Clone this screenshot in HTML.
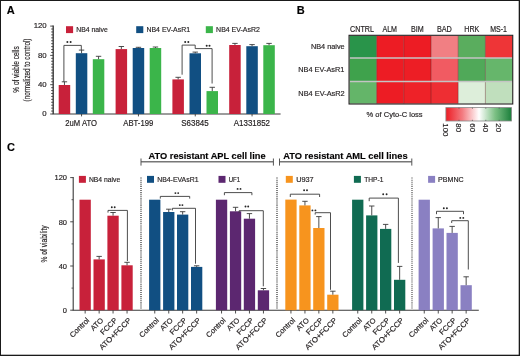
<!DOCTYPE html>
<html><head><meta charset="utf-8"><title>Figure</title>
<style>
html,body{margin:0;padding:0;background:#fff;}
body{width:520px;height:356px;overflow:hidden;}
svg{display:block;font-family:"Liberation Sans", sans-serif;will-change:transform;}
text{stroke:#231f20;stroke-width:0.18px;}
</style></head>
<body>
<svg width="520" height="356" viewBox="0 0 520 356" fill="#231f20">
<rect x="0" y="0" width="520" height="356" fill="#fff"/>
<text x="6.70" y="13.90" font-size="11" font-weight="bold" fill="#000">A</text>
<text x="296.70" y="14.00" font-size="11" font-weight="bold" fill="#000">B</text>
<text x="6.90" y="150.90" font-size="11" font-weight="bold" fill="#000">C</text>
<line x1="53.20" y1="25.50" x2="53.20" y2="114.00" stroke="#3a3a3a" stroke-width="1.4"/>
<line x1="50.20" y1="114.00" x2="53.20" y2="114.00" stroke="#3a3a3a" stroke-width="0.9"/>
<line x1="51.20" y1="111.07" x2="53.20" y2="111.07" stroke="#3a3a3a" stroke-width="0.9"/>
<line x1="51.20" y1="108.14" x2="53.20" y2="108.14" stroke="#3a3a3a" stroke-width="0.9"/>
<line x1="51.20" y1="105.21" x2="53.20" y2="105.21" stroke="#3a3a3a" stroke-width="0.9"/>
<line x1="51.20" y1="102.28" x2="53.20" y2="102.28" stroke="#3a3a3a" stroke-width="0.9"/>
<line x1="51.20" y1="99.35" x2="53.20" y2="99.35" stroke="#3a3a3a" stroke-width="0.9"/>
<line x1="51.20" y1="96.42" x2="53.20" y2="96.42" stroke="#3a3a3a" stroke-width="0.9"/>
<line x1="51.20" y1="93.49" x2="53.20" y2="93.49" stroke="#3a3a3a" stroke-width="0.9"/>
<line x1="51.20" y1="90.56" x2="53.20" y2="90.56" stroke="#3a3a3a" stroke-width="0.9"/>
<line x1="51.20" y1="87.63" x2="53.20" y2="87.63" stroke="#3a3a3a" stroke-width="0.9"/>
<line x1="50.20" y1="84.70" x2="53.20" y2="84.70" stroke="#3a3a3a" stroke-width="0.9"/>
<line x1="51.20" y1="81.77" x2="53.20" y2="81.77" stroke="#3a3a3a" stroke-width="0.9"/>
<line x1="51.20" y1="78.84" x2="53.20" y2="78.84" stroke="#3a3a3a" stroke-width="0.9"/>
<line x1="51.20" y1="75.91" x2="53.20" y2="75.91" stroke="#3a3a3a" stroke-width="0.9"/>
<line x1="51.20" y1="72.98" x2="53.20" y2="72.98" stroke="#3a3a3a" stroke-width="0.9"/>
<line x1="51.20" y1="70.05" x2="53.20" y2="70.05" stroke="#3a3a3a" stroke-width="0.9"/>
<line x1="51.20" y1="67.12" x2="53.20" y2="67.12" stroke="#3a3a3a" stroke-width="0.9"/>
<line x1="51.20" y1="64.19" x2="53.20" y2="64.19" stroke="#3a3a3a" stroke-width="0.9"/>
<line x1="51.20" y1="61.26" x2="53.20" y2="61.26" stroke="#3a3a3a" stroke-width="0.9"/>
<line x1="51.20" y1="58.33" x2="53.20" y2="58.33" stroke="#3a3a3a" stroke-width="0.9"/>
<line x1="50.20" y1="55.40" x2="53.20" y2="55.40" stroke="#3a3a3a" stroke-width="0.9"/>
<line x1="51.20" y1="52.47" x2="53.20" y2="52.47" stroke="#3a3a3a" stroke-width="0.9"/>
<line x1="51.20" y1="49.54" x2="53.20" y2="49.54" stroke="#3a3a3a" stroke-width="0.9"/>
<line x1="51.20" y1="46.61" x2="53.20" y2="46.61" stroke="#3a3a3a" stroke-width="0.9"/>
<line x1="51.20" y1="43.68" x2="53.20" y2="43.68" stroke="#3a3a3a" stroke-width="0.9"/>
<line x1="51.20" y1="40.75" x2="53.20" y2="40.75" stroke="#3a3a3a" stroke-width="0.9"/>
<line x1="51.20" y1="37.82" x2="53.20" y2="37.82" stroke="#3a3a3a" stroke-width="0.9"/>
<line x1="51.20" y1="34.89" x2="53.20" y2="34.89" stroke="#3a3a3a" stroke-width="0.9"/>
<line x1="51.20" y1="31.96" x2="53.20" y2="31.96" stroke="#3a3a3a" stroke-width="0.9"/>
<line x1="51.20" y1="29.03" x2="53.20" y2="29.03" stroke="#3a3a3a" stroke-width="0.9"/>
<line x1="50.20" y1="26.10" x2="53.20" y2="26.10" stroke="#3a3a3a" stroke-width="0.9"/>
<line x1="52.70" y1="114.00" x2="280.60" y2="114.00" stroke="#3a3a3a" stroke-width="1.1"/>
<text x="46.70" y="116.20" font-size="7.8" text-anchor="end">0</text>
<text x="46.70" y="86.90" font-size="7.8" text-anchor="end">40</text>
<text x="46.70" y="57.60" font-size="7.8" text-anchor="end">80</text>
<text x="46.70" y="28.30" font-size="7.8" text-anchor="end">120</text>
<rect x="58.70" y="85.00" width="11.50" height="29.00" fill="#c8213a"/>
<line x1="64.45" y1="81.80" x2="64.45" y2="85.00" stroke="#3a3a3a" stroke-width="0.9"/>
<line x1="61.75" y1="81.80" x2="67.15" y2="81.80" stroke="#3a3a3a" stroke-width="0.9"/>
<rect x="75.80" y="53.20" width="11.50" height="60.80" fill="#114f82"/>
<line x1="81.55" y1="50.10" x2="81.55" y2="53.20" stroke="#3a3a3a" stroke-width="0.9"/>
<line x1="78.85" y1="50.10" x2="84.25" y2="50.10" stroke="#3a3a3a" stroke-width="0.9"/>
<rect x="92.80" y="59.20" width="11.50" height="54.80" fill="#3bb54a"/>
<line x1="98.55" y1="56.30" x2="98.55" y2="59.20" stroke="#3a3a3a" stroke-width="0.9"/>
<line x1="95.85" y1="56.30" x2="101.25" y2="56.30" stroke="#3a3a3a" stroke-width="0.9"/>
<line x1="81.55" y1="114.00" x2="81.55" y2="116.40" stroke="#3a3a3a" stroke-width="0.9"/>
<rect x="115.60" y="49.10" width="11.50" height="64.90" fill="#c8213a"/>
<line x1="121.35" y1="46.50" x2="121.35" y2="49.10" stroke="#3a3a3a" stroke-width="0.9"/>
<line x1="118.65" y1="46.50" x2="124.05" y2="46.50" stroke="#3a3a3a" stroke-width="0.9"/>
<rect x="132.70" y="48.00" width="11.50" height="66.00" fill="#114f82"/>
<line x1="138.45" y1="47.30" x2="138.45" y2="48.00" stroke="#3a3a3a" stroke-width="0.9"/>
<line x1="135.75" y1="47.30" x2="141.15" y2="47.30" stroke="#3a3a3a" stroke-width="0.9"/>
<rect x="149.70" y="48.00" width="11.50" height="66.00" fill="#3bb54a"/>
<line x1="155.45" y1="47.00" x2="155.45" y2="48.00" stroke="#3a3a3a" stroke-width="0.9"/>
<line x1="152.75" y1="47.00" x2="158.15" y2="47.00" stroke="#3a3a3a" stroke-width="0.9"/>
<line x1="138.45" y1="114.00" x2="138.45" y2="116.40" stroke="#3a3a3a" stroke-width="0.9"/>
<rect x="172.40" y="79.40" width="11.50" height="34.60" fill="#c8213a"/>
<line x1="178.15" y1="77.30" x2="178.15" y2="79.40" stroke="#3a3a3a" stroke-width="0.9"/>
<line x1="175.45" y1="77.30" x2="180.85" y2="77.30" stroke="#3a3a3a" stroke-width="0.9"/>
<rect x="189.50" y="53.30" width="11.50" height="60.70" fill="#114f82"/>
<line x1="195.25" y1="52.10" x2="195.25" y2="53.30" stroke="#3a3a3a" stroke-width="0.9"/>
<line x1="192.55" y1="52.10" x2="197.95" y2="52.10" stroke="#3a3a3a" stroke-width="0.9"/>
<rect x="206.50" y="91.10" width="11.50" height="22.90" fill="#3bb54a"/>
<line x1="212.25" y1="87.30" x2="212.25" y2="91.10" stroke="#3a3a3a" stroke-width="0.9"/>
<line x1="209.55" y1="87.30" x2="214.95" y2="87.30" stroke="#3a3a3a" stroke-width="0.9"/>
<line x1="195.25" y1="114.00" x2="195.25" y2="116.40" stroke="#3a3a3a" stroke-width="0.9"/>
<rect x="229.20" y="45.00" width="11.50" height="69.00" fill="#c8213a"/>
<line x1="234.95" y1="43.40" x2="234.95" y2="45.00" stroke="#3a3a3a" stroke-width="0.9"/>
<line x1="232.25" y1="43.40" x2="237.65" y2="43.40" stroke="#3a3a3a" stroke-width="0.9"/>
<rect x="246.30" y="46.20" width="11.50" height="67.80" fill="#114f82"/>
<line x1="252.05" y1="44.60" x2="252.05" y2="46.20" stroke="#3a3a3a" stroke-width="0.9"/>
<line x1="249.35" y1="44.60" x2="254.75" y2="44.60" stroke="#3a3a3a" stroke-width="0.9"/>
<rect x="263.30" y="45.20" width="11.50" height="68.80" fill="#3bb54a"/>
<line x1="269.05" y1="43.40" x2="269.05" y2="45.20" stroke="#3a3a3a" stroke-width="0.9"/>
<line x1="266.35" y1="43.40" x2="271.75" y2="43.40" stroke="#3a3a3a" stroke-width="0.9"/>
<line x1="252.05" y1="114.00" x2="252.05" y2="116.40" stroke="#3a3a3a" stroke-width="0.9"/>
<text x="65.30" y="125.70" font-size="8.4" textLength="31.70" lengthAdjust="spacingAndGlyphs">2uM ATO</text>
<text x="123.30" y="125.70" font-size="8.4" textLength="30.00" lengthAdjust="spacingAndGlyphs">ABT-199</text>
<text x="181.30" y="125.70" font-size="8.4" textLength="27.40" lengthAdjust="spacingAndGlyphs">S63845</text>
<text x="233.80" y="125.70" font-size="8.4" textLength="36.20" lengthAdjust="spacingAndGlyphs">A1331852</text>
<path d="M63.9,81.8 V45.4 H81.3 V50.1" fill="none" stroke="#3a3a3a" stroke-width="0.9"/>
<circle cx="67.40" cy="42.10" r="1.0" fill="#262626"/><circle cx="70.60" cy="42.10" r="1.0" fill="#262626"/>
<path d="M182.1,74.7 V45.1 H195.2 V48.6 H212.1 V83.5" fill="none" stroke="#3a3a3a" stroke-width="0.9"/>
<circle cx="185.20" cy="42.10" r="1.0" fill="#262626"/><circle cx="188.30" cy="42.10" r="1.0" fill="#262626"/>
<circle cx="206.70" cy="45.70" r="1.0" fill="#262626"/><circle cx="209.50" cy="45.70" r="1.0" fill="#262626"/>
<rect x="66.00" y="26.20" width="7.10" height="6.90" fill="#c8213a"/>
<text x="76.20" y="32.40" font-size="7.8" textLength="31.60" lengthAdjust="spacingAndGlyphs">NB4 naive</text>
<rect x="136.20" y="26.20" width="7.10" height="6.90" fill="#114f82"/>
<text x="146.50" y="32.40" font-size="7.8" textLength="43.50" lengthAdjust="spacingAndGlyphs">NB4 EV-AsR1</text>
<rect x="205.80" y="26.20" width="7.10" height="6.90" fill="#3bb54a"/>
<text x="216.10" y="32.40" font-size="7.8" textLength="43.80" lengthAdjust="spacingAndGlyphs">NB4 EV-AsR2</text>
<text x="0.00" y="0.00" font-size="9.3" text-anchor="middle" textLength="46.30" lengthAdjust="spacingAndGlyphs" transform="translate(18.9,69.5) rotate(-90)">% of viable cells</text>
<text x="0.00" y="0.00" font-size="9.2" text-anchor="middle" textLength="62.80" lengthAdjust="spacingAndGlyphs" transform="translate(29.9,70.0) rotate(-90)">(normalized to control)</text>
<rect x="349.50" y="35.80" width="27.20" height="22.20" fill="#29944a"/>
<rect x="376.70" y="35.80" width="27.10" height="22.20" fill="#ed1c24"/>
<rect x="403.80" y="35.80" width="27.20" height="22.20" fill="#ed1c24"/>
<rect x="431.00" y="35.80" width="27.20" height="22.20" fill="#f17f83"/>
<rect x="458.20" y="35.80" width="27.20" height="22.20" fill="#5aad5e"/>
<rect x="485.40" y="35.80" width="27.20" height="22.20" fill="#ee3537"/>
<rect x="349.50" y="58.00" width="27.20" height="23.40" fill="#3fa24c"/>
<rect x="376.70" y="58.00" width="27.10" height="23.40" fill="#ed1c24"/>
<rect x="403.80" y="58.00" width="27.20" height="23.40" fill="#ed1e25"/>
<rect x="431.00" y="58.00" width="27.20" height="23.40" fill="#f15b62"/>
<rect x="458.20" y="58.00" width="27.20" height="23.40" fill="#50a959"/>
<rect x="485.40" y="58.00" width="27.20" height="23.40" fill="#66b66b"/>
<rect x="349.50" y="81.40" width="27.20" height="22.20" fill="#64b569"/>
<rect x="376.70" y="81.40" width="27.10" height="22.20" fill="#ed1c24"/>
<rect x="403.80" y="81.40" width="27.20" height="22.20" fill="#ee2228"/>
<rect x="431.00" y="81.40" width="27.20" height="22.20" fill="#ee2e33"/>
<rect x="458.20" y="81.40" width="27.20" height="22.20" fill="#ddeeda"/>
<rect x="485.40" y="81.40" width="27.20" height="22.20" fill="#c0dfbd"/>
<line x1="376.70" y1="35.80" x2="376.70" y2="103.60" stroke="#5a2020" stroke-width="0.6" stroke-opacity="0.7"/>
<line x1="403.80" y1="35.80" x2="403.80" y2="103.60" stroke="#5a2020" stroke-width="0.6" stroke-opacity="0.7"/>
<line x1="431.00" y1="35.80" x2="431.00" y2="103.60" stroke="#5a2020" stroke-width="0.6" stroke-opacity="0.7"/>
<line x1="458.20" y1="35.80" x2="458.20" y2="103.60" stroke="#5a2020" stroke-width="0.6" stroke-opacity="0.7"/>
<line x1="485.40" y1="35.80" x2="485.40" y2="103.60" stroke="#5a2020" stroke-width="0.6" stroke-opacity="0.7"/>
<line x1="349.50" y1="58.00" x2="512.60" y2="58.00" stroke="#c4c4c4" stroke-width="1.5"/>
<line x1="349.50" y1="81.40" x2="512.60" y2="81.40" stroke="#c4c4c4" stroke-width="1.5"/>
<rect x="349.05" y="35.3" width="163.7" height="68.7" fill="none" stroke="#231f20" stroke-width="1.1"/>
<text x="350.00" y="32.20" font-size="8.6" textLength="24.00" lengthAdjust="spacingAndGlyphs">CNTRL</text>
<text x="382.40" y="32.20" font-size="8.6" textLength="14.60" lengthAdjust="spacingAndGlyphs">ALM</text>
<text x="410.90" y="32.20" font-size="8.6" textLength="12.70" lengthAdjust="spacingAndGlyphs">BIM</text>
<text x="436.90" y="32.20" font-size="8.6" textLength="15.00" lengthAdjust="spacingAndGlyphs">BAD</text>
<text x="464.30" y="32.20" font-size="8.6" textLength="15.10" lengthAdjust="spacingAndGlyphs">HRK</text>
<text x="490.20" y="32.20" font-size="8.6" textLength="16.80" lengthAdjust="spacingAndGlyphs">MS-1</text>
<text x="310.90" y="48.90" font-size="7.9" textLength="33.80" lengthAdjust="spacingAndGlyphs">NB4 naive</text>
<text x="298.30" y="72.40" font-size="7.9" textLength="46.00" lengthAdjust="spacingAndGlyphs">NB4 EV-AsR1</text>
<text x="298.30" y="96.30" font-size="7.9" textLength="46.40" lengthAdjust="spacingAndGlyphs">NB4 EV-AsR2</text>
<defs><linearGradient id="cb" x1="0" x2="1" y1="0" y2="0"><stop offset="0" stop-color="#ed1c24"/><stop offset="0.25" stop-color="#f37b80"/><stop offset="0.505" stop-color="#ffffff"/><stop offset="0.75" stop-color="#7cc084"/><stop offset="1" stop-color="#1b7f3b"/></linearGradient></defs>
<rect x="445.9" y="107.6" width="65.6" height="13.4" fill="url(#cb)" stroke="#888" stroke-width="0.8"/>
<text x="0.00" y="0.00" font-size="7.9" transform="translate(442.80,123.3) rotate(90)">100</text>
<line x1="459.00" y1="107.60" x2="459.00" y2="108.80" stroke="#555" stroke-width="0.7"/>
<line x1="459.00" y1="119.80" x2="459.00" y2="121.00" stroke="#555" stroke-width="0.7"/>
<text x="0.00" y="0.00" font-size="7.9" transform="translate(456.20,123.3) rotate(90)">80</text>
<line x1="472.40" y1="107.60" x2="472.40" y2="108.80" stroke="#555" stroke-width="0.7"/>
<line x1="472.40" y1="119.80" x2="472.40" y2="121.00" stroke="#555" stroke-width="0.7"/>
<text x="0.00" y="0.00" font-size="7.9" transform="translate(469.60,123.3) rotate(90)">60</text>
<line x1="485.80" y1="107.60" x2="485.80" y2="108.80" stroke="#555" stroke-width="0.7"/>
<line x1="485.80" y1="119.80" x2="485.80" y2="121.00" stroke="#555" stroke-width="0.7"/>
<text x="0.00" y="0.00" font-size="7.9" transform="translate(483.00,123.3) rotate(90)">40</text>
<line x1="499.20" y1="107.60" x2="499.20" y2="108.80" stroke="#555" stroke-width="0.7"/>
<line x1="499.20" y1="119.80" x2="499.20" y2="121.00" stroke="#555" stroke-width="0.7"/>
<text x="0.00" y="0.00" font-size="7.9" transform="translate(496.40,123.3) rotate(90)">20</text>
<text x="366.60" y="116.80" font-size="7.9" textLength="56.00" lengthAdjust="spacingAndGlyphs">% of Cyto-C loss</text>
<line x1="73.20" y1="177.10" x2="73.20" y2="310.20" stroke="#3a3a3a" stroke-width="1.1"/>
<line x1="70.20" y1="310.20" x2="73.20" y2="310.20" stroke="#3a3a3a" stroke-width="0.9"/>
<line x1="71.50" y1="288.10" x2="73.20" y2="288.10" stroke="#3a3a3a" stroke-width="0.8"/>
<line x1="70.20" y1="266.00" x2="73.20" y2="266.00" stroke="#3a3a3a" stroke-width="0.9"/>
<line x1="71.50" y1="243.90" x2="73.20" y2="243.90" stroke="#3a3a3a" stroke-width="0.8"/>
<line x1="70.20" y1="221.80" x2="73.20" y2="221.80" stroke="#3a3a3a" stroke-width="0.9"/>
<line x1="71.50" y1="199.70" x2="73.20" y2="199.70" stroke="#3a3a3a" stroke-width="0.8"/>
<line x1="70.20" y1="177.60" x2="73.20" y2="177.60" stroke="#3a3a3a" stroke-width="0.9"/>
<line x1="72.70" y1="310.20" x2="478.80" y2="310.20" stroke="#3a3a3a" stroke-width="1.1"/>
<text x="67.00" y="313.00" font-size="7.5" text-anchor="end">0</text>
<text x="67.00" y="268.80" font-size="7.5" text-anchor="end">40</text>
<text x="67.00" y="224.60" font-size="7.5" text-anchor="end">80</text>
<text x="67.00" y="180.40" font-size="7.5" text-anchor="end">120</text>
<rect x="79.50" y="199.70" width="11.30" height="110.50" fill="#c8213a"/>
<line x1="85.15" y1="310.20" x2="85.15" y2="313.50" stroke="#3a3a3a" stroke-width="0.9"/>
<text x="0.00" y="0.00" font-size="7.5" text-anchor="end" transform="translate(89.80,320.8) rotate(-45)">Control</text>
<rect x="93.50" y="259.40" width="11.30" height="50.80" fill="#c8213a"/>
<line x1="99.15" y1="256.40" x2="99.15" y2="259.40" stroke="#3a3a3a" stroke-width="0.9"/>
<line x1="96.45" y1="256.40" x2="101.85" y2="256.40" stroke="#3a3a3a" stroke-width="0.9"/>
<line x1="99.15" y1="310.20" x2="99.15" y2="313.50" stroke="#3a3a3a" stroke-width="0.9"/>
<text x="0.00" y="0.00" font-size="7.5" text-anchor="end" transform="translate(103.80,320.8) rotate(-45)">ATO</text>
<rect x="107.40" y="215.70" width="11.30" height="94.50" fill="#c8213a"/>
<line x1="113.05" y1="212.50" x2="113.05" y2="215.70" stroke="#3a3a3a" stroke-width="0.9"/>
<line x1="110.35" y1="212.50" x2="115.75" y2="212.50" stroke="#3a3a3a" stroke-width="0.9"/>
<line x1="113.05" y1="310.20" x2="113.05" y2="313.50" stroke="#3a3a3a" stroke-width="0.9"/>
<text x="0.00" y="0.00" font-size="7.5" text-anchor="end" transform="translate(117.70,320.8) rotate(-45)">FCCP</text>
<rect x="121.40" y="265.30" width="11.30" height="44.90" fill="#c8213a"/>
<line x1="127.05" y1="262.30" x2="127.05" y2="265.30" stroke="#3a3a3a" stroke-width="0.9"/>
<line x1="124.35" y1="262.30" x2="129.75" y2="262.30" stroke="#3a3a3a" stroke-width="0.9"/>
<line x1="127.05" y1="310.20" x2="127.05" y2="313.50" stroke="#3a3a3a" stroke-width="0.9"/>
<text x="0.00" y="0.00" font-size="7.5" text-anchor="end" textLength="41.80" lengthAdjust="spacingAndGlyphs" transform="translate(131.70,320.8) rotate(-45)">ATO+FCCP</text>
<rect x="149.10" y="199.70" width="11.30" height="110.50" fill="#114f82"/>
<line x1="154.75" y1="310.20" x2="154.75" y2="313.50" stroke="#3a3a3a" stroke-width="0.9"/>
<text x="0.00" y="0.00" font-size="7.5" text-anchor="end" transform="translate(159.40,320.8) rotate(-45)">Control</text>
<rect x="163.10" y="212.00" width="11.30" height="98.20" fill="#114f82"/>
<line x1="168.75" y1="209.20" x2="168.75" y2="212.00" stroke="#3a3a3a" stroke-width="0.9"/>
<line x1="166.05" y1="209.20" x2="171.45" y2="209.20" stroke="#3a3a3a" stroke-width="0.9"/>
<line x1="168.75" y1="310.20" x2="168.75" y2="313.50" stroke="#3a3a3a" stroke-width="0.9"/>
<text x="0.00" y="0.00" font-size="7.5" text-anchor="end" transform="translate(173.40,320.8) rotate(-45)">ATO</text>
<rect x="177.00" y="214.60" width="11.30" height="95.60" fill="#114f82"/>
<line x1="182.65" y1="211.70" x2="182.65" y2="214.60" stroke="#3a3a3a" stroke-width="0.9"/>
<line x1="179.95" y1="211.70" x2="185.35" y2="211.70" stroke="#3a3a3a" stroke-width="0.9"/>
<line x1="182.65" y1="310.20" x2="182.65" y2="313.50" stroke="#3a3a3a" stroke-width="0.9"/>
<text x="0.00" y="0.00" font-size="7.5" text-anchor="end" transform="translate(187.30,320.8) rotate(-45)">FCCP</text>
<rect x="191.00" y="266.90" width="11.30" height="43.30" fill="#114f82"/>
<line x1="196.65" y1="265.80" x2="196.65" y2="266.90" stroke="#3a3a3a" stroke-width="0.9"/>
<line x1="193.95" y1="265.80" x2="199.35" y2="265.80" stroke="#3a3a3a" stroke-width="0.9"/>
<line x1="196.65" y1="310.20" x2="196.65" y2="313.50" stroke="#3a3a3a" stroke-width="0.9"/>
<text x="0.00" y="0.00" font-size="7.5" text-anchor="end" textLength="41.80" lengthAdjust="spacingAndGlyphs" transform="translate(201.30,320.8) rotate(-45)">ATO+FCCP</text>
<rect x="215.90" y="199.70" width="11.30" height="110.50" fill="#5c2770"/>
<line x1="221.55" y1="310.20" x2="221.55" y2="313.50" stroke="#3a3a3a" stroke-width="0.9"/>
<text x="0.00" y="0.00" font-size="7.5" text-anchor="end" transform="translate(226.20,320.8) rotate(-45)">Control</text>
<rect x="229.90" y="211.30" width="11.30" height="98.90" fill="#5c2770"/>
<line x1="235.55" y1="207.30" x2="235.55" y2="211.30" stroke="#3a3a3a" stroke-width="0.9"/>
<line x1="232.85" y1="207.30" x2="238.25" y2="207.30" stroke="#3a3a3a" stroke-width="0.9"/>
<line x1="235.55" y1="310.20" x2="235.55" y2="313.50" stroke="#3a3a3a" stroke-width="0.9"/>
<text x="0.00" y="0.00" font-size="7.5" text-anchor="end" transform="translate(240.20,320.8) rotate(-45)">ATO</text>
<rect x="243.80" y="218.70" width="11.30" height="91.50" fill="#5c2770"/>
<line x1="249.45" y1="213.60" x2="249.45" y2="218.70" stroke="#3a3a3a" stroke-width="0.9"/>
<line x1="246.75" y1="213.60" x2="252.15" y2="213.60" stroke="#3a3a3a" stroke-width="0.9"/>
<line x1="249.45" y1="310.20" x2="249.45" y2="313.50" stroke="#3a3a3a" stroke-width="0.9"/>
<text x="0.00" y="0.00" font-size="7.5" text-anchor="end" transform="translate(254.10,320.8) rotate(-45)">FCCP</text>
<rect x="257.80" y="290.30" width="11.30" height="19.90" fill="#5c2770"/>
<line x1="263.45" y1="288.50" x2="263.45" y2="290.30" stroke="#3a3a3a" stroke-width="0.9"/>
<line x1="260.75" y1="288.50" x2="266.15" y2="288.50" stroke="#3a3a3a" stroke-width="0.9"/>
<line x1="263.45" y1="310.20" x2="263.45" y2="313.50" stroke="#3a3a3a" stroke-width="0.9"/>
<text x="0.00" y="0.00" font-size="7.5" text-anchor="end" textLength="41.80" lengthAdjust="spacingAndGlyphs" transform="translate(268.10,320.8) rotate(-45)">ATO+FCCP</text>
<rect x="285.30" y="199.60" width="11.30" height="110.60" fill="#f7941e"/>
<line x1="290.95" y1="310.20" x2="290.95" y2="313.50" stroke="#3a3a3a" stroke-width="0.9"/>
<text x="0.00" y="0.00" font-size="7.5" text-anchor="end" transform="translate(295.60,320.8) rotate(-45)">Control</text>
<rect x="299.30" y="205.40" width="11.30" height="104.80" fill="#f7941e"/>
<line x1="304.95" y1="201.30" x2="304.95" y2="205.40" stroke="#3a3a3a" stroke-width="0.9"/>
<line x1="302.25" y1="201.30" x2="307.65" y2="201.30" stroke="#3a3a3a" stroke-width="0.9"/>
<line x1="304.95" y1="310.20" x2="304.95" y2="313.50" stroke="#3a3a3a" stroke-width="0.9"/>
<text x="0.00" y="0.00" font-size="7.5" text-anchor="end" transform="translate(309.60,320.8) rotate(-45)">ATO</text>
<rect x="313.20" y="228.00" width="11.30" height="82.20" fill="#f7941e"/>
<line x1="318.85" y1="216.60" x2="318.85" y2="228.00" stroke="#3a3a3a" stroke-width="0.9"/>
<line x1="316.15" y1="216.60" x2="321.55" y2="216.60" stroke="#3a3a3a" stroke-width="0.9"/>
<line x1="318.85" y1="310.20" x2="318.85" y2="313.50" stroke="#3a3a3a" stroke-width="0.9"/>
<text x="0.00" y="0.00" font-size="7.5" text-anchor="end" transform="translate(323.50,320.8) rotate(-45)">FCCP</text>
<rect x="327.20" y="294.70" width="11.30" height="15.50" fill="#f7941e"/>
<line x1="332.85" y1="291.20" x2="332.85" y2="294.70" stroke="#3a3a3a" stroke-width="0.9"/>
<line x1="330.15" y1="291.20" x2="335.55" y2="291.20" stroke="#3a3a3a" stroke-width="0.9"/>
<line x1="332.85" y1="310.20" x2="332.85" y2="313.50" stroke="#3a3a3a" stroke-width="0.9"/>
<text x="0.00" y="0.00" font-size="7.5" text-anchor="end" textLength="41.80" lengthAdjust="spacingAndGlyphs" transform="translate(337.50,320.8) rotate(-45)">ATO+FCCP</text>
<rect x="352.10" y="199.70" width="11.30" height="110.50" fill="#106b52"/>
<line x1="357.75" y1="310.20" x2="357.75" y2="313.50" stroke="#3a3a3a" stroke-width="0.9"/>
<text x="0.00" y="0.00" font-size="7.5" text-anchor="end" transform="translate(362.40,320.8) rotate(-45)">Control</text>
<rect x="366.10" y="215.40" width="11.30" height="94.80" fill="#106b52"/>
<line x1="371.75" y1="206.00" x2="371.75" y2="215.40" stroke="#3a3a3a" stroke-width="0.9"/>
<line x1="369.05" y1="206.00" x2="374.45" y2="206.00" stroke="#3a3a3a" stroke-width="0.9"/>
<line x1="371.75" y1="310.20" x2="371.75" y2="313.50" stroke="#3a3a3a" stroke-width="0.9"/>
<text x="0.00" y="0.00" font-size="7.5" text-anchor="end" transform="translate(376.40,320.8) rotate(-45)">ATO</text>
<rect x="380.00" y="228.90" width="11.30" height="81.30" fill="#106b52"/>
<line x1="385.65" y1="224.40" x2="385.65" y2="228.90" stroke="#3a3a3a" stroke-width="0.9"/>
<line x1="382.95" y1="224.40" x2="388.35" y2="224.40" stroke="#3a3a3a" stroke-width="0.9"/>
<line x1="385.65" y1="310.20" x2="385.65" y2="313.50" stroke="#3a3a3a" stroke-width="0.9"/>
<text x="0.00" y="0.00" font-size="7.5" text-anchor="end" transform="translate(390.30,320.8) rotate(-45)">FCCP</text>
<rect x="394.00" y="279.80" width="11.30" height="30.40" fill="#106b52"/>
<line x1="399.65" y1="266.40" x2="399.65" y2="279.80" stroke="#3a3a3a" stroke-width="0.9"/>
<line x1="396.95" y1="266.40" x2="402.35" y2="266.40" stroke="#3a3a3a" stroke-width="0.9"/>
<line x1="399.65" y1="310.20" x2="399.65" y2="313.50" stroke="#3a3a3a" stroke-width="0.9"/>
<text x="0.00" y="0.00" font-size="7.5" text-anchor="end" textLength="41.80" lengthAdjust="spacingAndGlyphs" transform="translate(404.30,320.8) rotate(-45)">ATO+FCCP</text>
<rect x="418.60" y="199.70" width="11.30" height="110.50" fill="#8a80c2"/>
<line x1="424.25" y1="310.20" x2="424.25" y2="313.50" stroke="#3a3a3a" stroke-width="0.9"/>
<text x="0.00" y="0.00" font-size="7.5" text-anchor="end" transform="translate(428.90,320.8) rotate(-45)">Control</text>
<rect x="432.60" y="228.40" width="11.30" height="81.80" fill="#8a80c2"/>
<line x1="438.25" y1="217.60" x2="438.25" y2="228.40" stroke="#3a3a3a" stroke-width="0.9"/>
<line x1="435.55" y1="217.60" x2="440.95" y2="217.60" stroke="#3a3a3a" stroke-width="0.9"/>
<line x1="438.25" y1="310.20" x2="438.25" y2="313.50" stroke="#3a3a3a" stroke-width="0.9"/>
<text x="0.00" y="0.00" font-size="7.5" text-anchor="end" transform="translate(442.90,320.8) rotate(-45)">ATO</text>
<rect x="446.50" y="232.90" width="11.30" height="77.30" fill="#8a80c2"/>
<line x1="452.15" y1="226.40" x2="452.15" y2="232.90" stroke="#3a3a3a" stroke-width="0.9"/>
<line x1="449.45" y1="226.40" x2="454.85" y2="226.40" stroke="#3a3a3a" stroke-width="0.9"/>
<line x1="452.15" y1="310.20" x2="452.15" y2="313.50" stroke="#3a3a3a" stroke-width="0.9"/>
<text x="0.00" y="0.00" font-size="7.5" text-anchor="end" transform="translate(456.80,320.8) rotate(-45)">FCCP</text>
<rect x="460.50" y="285.20" width="11.30" height="25.00" fill="#8a80c2"/>
<line x1="466.15" y1="276.80" x2="466.15" y2="285.20" stroke="#3a3a3a" stroke-width="0.9"/>
<line x1="463.45" y1="276.80" x2="468.85" y2="276.80" stroke="#3a3a3a" stroke-width="0.9"/>
<line x1="466.15" y1="310.20" x2="466.15" y2="313.50" stroke="#3a3a3a" stroke-width="0.9"/>
<text x="0.00" y="0.00" font-size="7.5" text-anchor="end" textLength="41.80" lengthAdjust="spacingAndGlyphs" transform="translate(470.80,320.8) rotate(-45)">ATO+FCCP</text>
<path d="M108.0,212.6 V210.4 H127.4 V261.0" fill="none" stroke="#3a3a3a" stroke-width="0.9"/>
<circle cx="111.80" cy="207.20" r="0.95" fill="#262626"/><circle cx="114.70" cy="207.20" r="0.95" fill="#262626"/>
<path d="M160.3,198.6 V196.4 H189.7 V198.6" fill="none" stroke="#3a3a3a" stroke-width="0.9"/>
<circle cx="175.40" cy="193.10" r="0.95" fill="#262626"/><circle cx="178.20" cy="193.10" r="0.95" fill="#262626"/>
<path d="M172.4,210.4 V208.3 H195.5 V263.7" fill="none" stroke="#3a3a3a" stroke-width="0.9"/>
<circle cx="179.80" cy="205.10" r="0.95" fill="#262626"/><circle cx="182.40" cy="205.10" r="0.95" fill="#262626"/>
<path d="M224.4,195.2 V192.6 H251.9 V195.2" fill="none" stroke="#3a3a3a" stroke-width="0.9"/>
<circle cx="237.60" cy="188.90" r="0.95" fill="#262626"/><circle cx="240.50" cy="188.90" r="0.95" fill="#262626"/>
<path d="M239.1,212.8 V210.7 H263.3 V286.3" fill="none" stroke="#3a3a3a" stroke-width="0.9"/>
<circle cx="245.50" cy="206.50" r="0.95" fill="#262626"/><circle cx="248.20" cy="206.50" r="0.95" fill="#262626"/>
<path d="M290.3,197.0 V194.2 H319.6 V197.0" fill="none" stroke="#3a3a3a" stroke-width="0.9"/>
<circle cx="304.10" cy="190.30" r="0.95" fill="#262626"/><circle cx="307.00" cy="190.30" r="0.95" fill="#262626"/>
<path d="M315.2,214.6 V212.7 H330.5 V289.8" fill="none" stroke="#3a3a3a" stroke-width="0.9"/>
<circle cx="312.40" cy="210.40" r="0.95" fill="#262626"/><circle cx="315.40" cy="210.40" r="0.95" fill="#262626"/>
<path d="M369.2,201.2 V198.1 H398.4 V262.9" fill="none" stroke="#3a3a3a" stroke-width="0.9"/>
<circle cx="383.20" cy="194.30" r="0.95" fill="#262626"/><circle cx="386.60" cy="194.30" r="0.95" fill="#262626"/>
<path d="M436.5,214.2 V211.3 H463.5 V214.2" fill="none" stroke="#3a3a3a" stroke-width="0.9"/>
<circle cx="443.80" cy="208.20" r="0.95" fill="#262626"/><circle cx="446.90" cy="208.20" r="0.95" fill="#262626"/>
<path d="M451.7,223.0 V220.7 H468.3 V269.5" fill="none" stroke="#3a3a3a" stroke-width="0.9"/>
<circle cx="460.30" cy="217.90" r="0.95" fill="#262626"/><circle cx="463.30" cy="217.90" r="0.95" fill="#262626"/>
<line x1="141.00" y1="177.55" x2="141.00" y2="309.00" stroke="#4a4a4a" stroke-width="1.4" stroke-dasharray="1.04,1.04"/>
<line x1="277.00" y1="177.55" x2="277.00" y2="309.00" stroke="#4a4a4a" stroke-width="1.4" stroke-dasharray="1.04,1.04"/>
<line x1="412.00" y1="177.55" x2="412.00" y2="309.00" stroke="#6a6a6a" stroke-width="1.4" stroke-dasharray="1.04,1.04"/>
<line x1="141.00" y1="161.85" x2="273.40" y2="161.85" stroke="#777" stroke-width="1.5"/>
<line x1="141.00" y1="158.50" x2="141.00" y2="165.60" stroke="#555" stroke-width="1.0"/>
<line x1="273.40" y1="158.50" x2="273.40" y2="165.60" stroke="#555" stroke-width="1.0"/>
<line x1="279.50" y1="161.85" x2="411.80" y2="161.85" stroke="#777" stroke-width="1.5"/>
<line x1="279.50" y1="158.50" x2="279.50" y2="165.60" stroke="#555" stroke-width="1.0"/>
<line x1="411.80" y1="158.50" x2="411.80" y2="165.60" stroke="#555" stroke-width="1.0"/>
<text x="148.50" y="158.90" font-size="9.4" textLength="117.10" lengthAdjust="spacingAndGlyphs" font-weight="bold" fill="#000">ATO resistant APL cell line</text>
<text x="283.20" y="158.90" font-size="9.4" textLength="124.40" lengthAdjust="spacingAndGlyphs" font-weight="bold" fill="#000">ATO resistant AML cell lines</text>
<rect x="78.90" y="175.90" width="7.00" height="6.90" fill="#c8213a"/>
<text x="88.90" y="182.00" font-size="7.4" textLength="31.30" lengthAdjust="spacingAndGlyphs">NB4 naive</text>
<rect x="147.00" y="175.90" width="7.00" height="6.90" fill="#114f82"/>
<text x="157.20" y="182.00" font-size="7.4" textLength="41.30" lengthAdjust="spacingAndGlyphs">NB4-EVAsR1</text>
<rect x="218.50" y="175.90" width="7.00" height="6.90" fill="#5c2770"/>
<text x="228.70" y="182.00" font-size="7.4" textLength="11.40" lengthAdjust="spacingAndGlyphs">UF1</text>
<rect x="285.80" y="175.90" width="7.00" height="6.90" fill="#f7941e"/>
<text x="296.20" y="182.00" font-size="7.4" textLength="17.50" lengthAdjust="spacingAndGlyphs">U937</text>
<rect x="353.90" y="175.90" width="7.00" height="6.90" fill="#106b52"/>
<text x="364.30" y="182.00" font-size="7.4" textLength="19.10" lengthAdjust="spacingAndGlyphs">THP-1</text>
<rect x="428.10" y="175.90" width="7.00" height="6.90" fill="#8a80c2"/>
<text x="438.10" y="182.00" font-size="7.4" textLength="25.60" lengthAdjust="spacingAndGlyphs">PBMNC</text>
<text x="0.00" y="0.00" font-size="8.4" text-anchor="middle" textLength="37.20" lengthAdjust="spacingAndGlyphs" transform="translate(46.6,243.9) rotate(-90)">% of viability</text>
<rect x="0.00" y="0.00" width="520.00" height="1.00" fill="#1a1a1a"/>
<rect x="0.00" y="0.00" width="1.00" height="356.00" fill="#1a1a1a"/>
<rect x="518.70" y="0.00" width="1.30" height="356.00" fill="#1a1a1a"/>
<rect x="0.00" y="354.70" width="520.00" height="1.30" fill="#1a1a1a"/>
</svg>
</body></html>
